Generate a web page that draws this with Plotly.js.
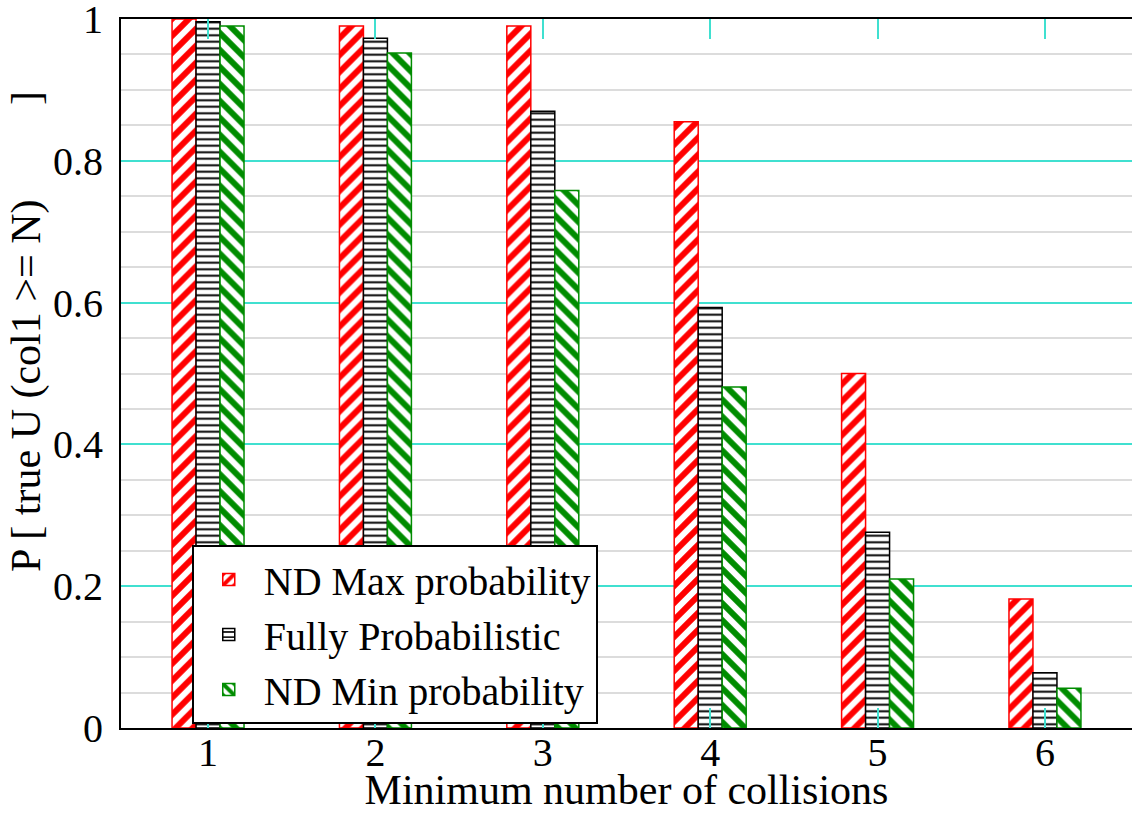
<!DOCTYPE html>
<html>
<head>
<meta charset="utf-8">
<script src="https://cdn.plot.ly/plotly-3.0.1.min.js"></script>
<style>html,body{margin:0;padding:0;background:#fff;}#chart{width:1132px;height:813px;}</style>
</head>
<body>
<div id="chart"></div>
<script>
const categories = [1, 2, 3, 4, 5, 6];
const ndMax = [1.0, 0.990, 0.990, 0.855, 0.500, 0.182];
const fullyProb = [0.996, 0.973, 0.870, 0.593, 0.276, 0.078];
const ndMin = [0.990, 0.952, 0.758, 0.481, 0.210, 0.056];
const yTicks = [0, 0.2, 0.4, 0.6, 0.8, 1];
const yTickLabels = ['0', '0.2', '0.4', '0.6', '0.8', '1'];
const xTitle = 'Minimum number of collisions';
const yTitle = 'P [ true U (col1 >= N)\u00A0\u00A0\u00A0\u00A0\u00A0\u00A0\u00A0\u00A0 ]';

const FONT = '"Liberation Serif", "Times New Roman", Times, serif';
const RED = '#ff0000', GREEN = '#008c00', BLACK = '#000000';

const traces = [
  {type:'bar', name:'ND Max probability', x:categories, y:ndMax,
   marker:{color:'white', line:{color:RED, width:1.5},
     pattern:{shape:'/', fgcolor:RED, bgcolor:'white', size:12, solidity:0.5, fillmode:'replace'}}},
  {type:'bar', name:'Fully Probabilistic', x:categories, y:fullyProb,
   marker:{color:'white', line:{color:BLACK, width:1.5},
     pattern:{shape:'-', fgcolor:BLACK, bgcolor:'white', size:6.5, solidity:0.3, fillmode:'replace'}}},
  {type:'bar', name:'ND Min probability', x:categories, y:ndMin,
   marker:{color:'white', line:{color:GREEN, width:1.5},
     pattern:{shape:'\\', fgcolor:GREEN, bgcolor:'white', size:12, solidity:0.5, fillmode:'replace'}}}
];

const layout = {
  width:1132, height:813,
  margin:{l:121, r:0, t:19, b:85},
  paper_bgcolor:'white', plot_bgcolor:'white',
  font:{family:FONT, color:'black', size:40},
  barmode:'group', bargap:0.57, bargroupgap:0,
  showlegend:true,
  legend:{x:0.07, y:0.258, xanchor:'left', yanchor:'top',
    bgcolor:'white', bordercolor:'black', borderwidth:2,
    font:{family:FONT, size:40, color:'black'}, itemwidth:60, traceorder:'normal'},
  xaxis:{range:[0.48, 6.52], tickmode:'array', tickvals:categories, ticktext:categories.map(String),
    showgrid:false, zeroline:false, showline:true, linecolor:'black', linewidth:2,
    mirror:'ticks', ticks:'inside', ticklen:20, tickwidth:2, tickcolor:'#40e0d0',
    tickfont:{family:FONT, size:40}, ticklabelstandoff:-12, ticklabeloverflow:'allow',
    title:{text:xTitle, font:{family:FONT, size:42}, standoff:3}},
  yaxis:{range:[0, 1], tickmode:'array', tickvals:yTicks, ticktext:yTickLabels,
    showgrid:true, gridcolor:'#40e0d0', gridwidth:2, zeroline:false,
    showline:true, linecolor:'black', linewidth:2, ticks:'',
    minor:{dtick:0.05, showgrid:true, gridcolor:'#dcdcdc', gridwidth:2, ticks:''},
    tickfont:{family:FONT, size:40}, ticklabelstandoff:8, ticklabeloverflow:'allow'},
  annotations:[{text:yTitle, textangle:-90, xref:'paper', yref:'paper',
    x:-0.093, y:0.56, xanchor:'center', yanchor:'middle', showarrow:false,
    font:{family:FONT, size:42, color:'black'}}]
};

Plotly.newPlot('chart', traces, layout, {displayModeBar:false, staticPlot:true});
</script>
</body>
</html>
